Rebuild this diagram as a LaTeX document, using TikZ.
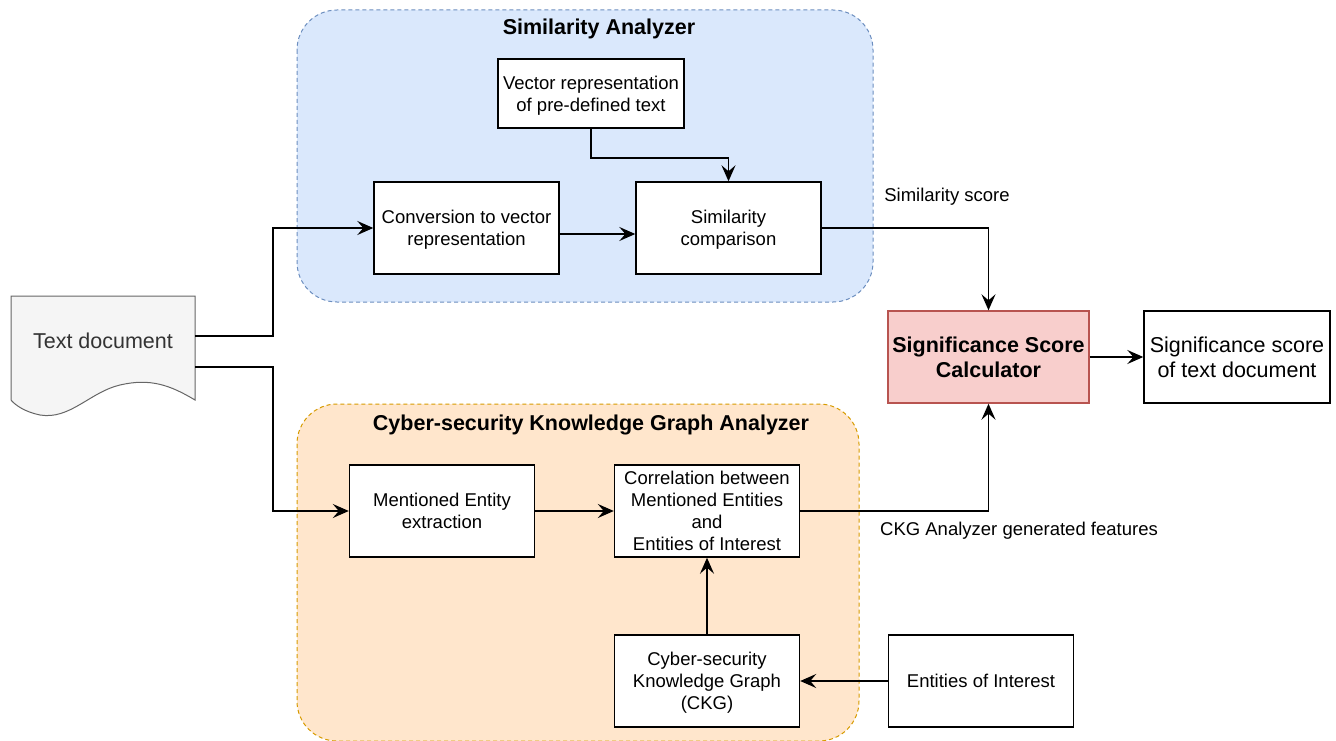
\documentclass[tikz,border=0pt]{standalone}
\usepackage{fontspec}
\setmainfont{Liberation Sans}
\usetikzlibrary{arrows.meta}
\definecolor{bluefill}{HTML}{DAE8FC}
\definecolor{bluedraw}{HTML}{6C8EBF}
\definecolor{orfill}{HTML}{FFE6CC}
\definecolor{ordraw}{HTML}{D79B00}
\definecolor{redfill}{HTML}{F8CECC}
\definecolor{reddraw}{HTML}{B85450}
\definecolor{docfill}{HTML}{F5F5F5}
\definecolor{docdraw}{HTML}{666666}
\definecolor{doctext}{HTML}{333333}
\tikzset{
  x=1pt, y=-1pt,
  box/.style={draw=black, fill=white, line width=1.4pt, minimum width=185pt, minimum height=92pt, align=center, inner sep=2pt, text depth=0pt, font=\fontsize{18.5}{22}\selectfont},
  grp/.style={dashed, line width=1pt, rounded corners=40pt, dash pattern=on 4pt off 3pt},
  conn/.style={line width=1.6pt, -{Stealth[length=16pt,width=14pt,inset=6pt]}},
  lbl/.style={font=\fontsize{18.5}{22}\selectfont},
  title/.style={font=\fontsize{21.5}{25}\selectfont\bfseries},
}
\begin{document}
\begin{tikzpicture}
\useasboundingbox (0,0) rectangle (1336,741);
% groups
\draw[grp, draw=bluedraw, fill=bluefill] (297,10) rectangle (873,302);
\node[title] (t1) at (599,29) {Similarity Analyzer};
\begin{scope}
\clip (-10,-10) rectangle (1346,741.5);
\draw[grp, draw=ordraw, fill=orfill] (297,404) rectangle (859,741);
\end{scope}
\node[title] (t2) at (591,425) {Cyber-security Knowledge Graph Analyzer};
% document shape
\draw[line width=1pt, draw=docdraw, fill=docfill] (11,296) -- (195,296) -- (195,400)
  .. controls (170,385) and (150,378) .. (120,385)
  .. controls (90,392) and (70,420) .. (40,415)
  .. controls (25,412) and (15,405) .. (11,400) -- cycle;
\node[font=\fontsize{21.5}{25}\selectfont, text=doctext] (doc) at (103,341) {Text document};
\coordinate (docA) at (195,336);
\coordinate (docB) at (195,367);
% boxes
\node[box, minimum width=186pt, minimum height=69pt] (vec) at (591,93.5) {Vector representation\\of pre-defined text};
\node[box] (conv) at (466.5,228) {Conversion to vector\\representation};
\node[box] (sim) at (728.5,228) {Similarity\\comparison};
\node[box, minimum width=201pt, draw=reddraw, fill=redfill, font=\fontsize{21.5}{25}\selectfont\bfseries] (calc) at (988.5,357) {Significance Score\\Calculator};
\node[box, minimum width=186pt, font=\fontsize{21.5}{25}\selectfont] (out) at (1237,357) {Significance score\\of text document};
\node[box] (ment) at (442,511) {Mentioned Entity\\extraction};
\node[box] (corr) at (707,511) {Correlation between\\Mentioned Entities\\and\\Entities of Interest};
\node[box] (ckg) at (707,681) {Cyber-security\\Knowledge Graph\\(CKG)};
\node[box] (eoi) at (981,681) {Entities of Interest};
% connectors
\draw[conn] (docA) -- (273,336) |- (conv.west);
\draw[conn] (docB) -- (273,367) |- (ment.west);
\draw[conn] (vec.south) -- (591,158) -| (sim.north);
\draw[conn] ([yshift=-6pt]conv.east) -- ([yshift=-6pt]sim.west);
\draw[conn] (sim.east) -| (calc.north);
\draw[conn] (calc.east) -- (out.west);
\draw[conn] (ment.east) -- (corr.west);
\draw[conn] (corr.east) -| (calc.south);
\draw[conn] (ckg.north) -- (corr.south);
\draw[conn] (eoi.west) -- (ckg.east);
% labels
\node[lbl] (l1) at (947,197) {Similarity score};
\node[lbl] (l2) at (1019,531) {CKG Analyzer generated features};
\end{tikzpicture}
\end{document}
